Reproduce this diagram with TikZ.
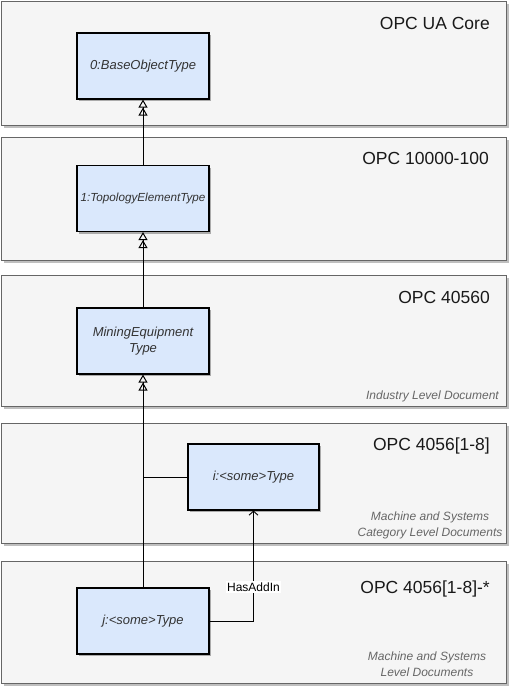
\documentclass[tikz,border=0pt]{standalone}
\usepackage{fontspec}
\setmainfont{Liberation Sans}
\usetikzlibrary{arrows.meta,shadows}
\definecolor{panelfill}{HTML}{F5F5F5}
\definecolor{panelline}{HTML}{666666}
\definecolor{boxfill}{HTML}{DAE8FC}
\definecolor{boxtext}{HTML}{333333}
\definecolor{subtext}{HTML}{666666}
\begin{document}
\begin{tikzpicture}[x=1pt,y=-1pt,
  panel/.style={draw=panelline, fill=panelfill, line width=1pt, anchor=north west, inner sep=0pt,
    drop shadow={shadow xshift=2.5pt, shadow yshift=-2.5pt, fill=black, opacity=0.25}},
  typebox/.style={draw=black, fill=boxfill, line width=1.2pt, minimum width=132pt, minimum height=66pt,
    inner sep=1pt, align=center, text=boxtext, font=\fontsize{13}{16}\selectfont\itshape,
    drop shadow={shadow xshift=2pt, shadow yshift=-2pt, fill=black, opacity=0.3}},
  title/.style={anchor=base east, inner sep=0pt, text=black!90, font=\fontsize{17.5}{20}\selectfont},
  sub/.style={inner sep=0pt, text=subtext, align=center, font=\fontsize{12}{16}\selectfont\itshape},
  conn/.style={draw=black, line width=0.9pt},
  subtype/.style={conn, -{Triangle[open,length=8pt,width=9pt,line width=1pt] Triangle[open,length=8pt,width=9pt,line width=1pt]}},
  addin/.style={conn, -{Straight Barb[length=4pt,width=9pt]}}
]
\useasboundingbox (0,0) rectangle (510,686);
% panels
\node[panel, minimum width=505pt, minimum height=124pt] (p1) at (1,1) {};
\node[panel, minimum width=505pt, minimum height=123pt] (p2) at (1,137) {};
\node[panel, minimum width=505pt, minimum height=131pt] (p3) at (1,275) {};
\node[panel, minimum width=505pt, minimum height=120pt] (p4) at (1,423) {};
\node[panel, minimum width=505pt, minimum height=122pt] (p5) at (1,561) {};
% titles
\node[title] (t1) at (490,29) {OPC UA Core};
\node[title] (t2) at (489,164) {OPC 10000-100};
\node[title] (t3) at (490,303) {OPC 40560};
\node[title] (t4) at (490,450) {OPC 4056[1-8]};
\node[title] (t5) at (490,593) {OPC 4056[1-8]-*};
% subtitles
\node[sub, anchor=east] (s3) at (499,396) {Industry Level Document};
\node[sub] (s4) at (430,525) {Machine and Systems\\Category Level Documents};
\node[sub] (s5) at (427,664) {Machine and Systems\\Level Documents};
% type boxes
\node[typebox] (b1) at (143,66) {0:BaseObjectType};
\node[typebox, font=\fontsize{11.7}{14}\selectfont\itshape] (b2) at (143,198.5) {1:TopologyElementType};
\node[typebox] (b3) at (143,341) {MiningEquipment\\Type};
\node[typebox, minimum width=131pt] (b4) at (253.5,477) {i:<some>Type};
\node[typebox] (b5) at (143,621) {j:<some>Type};
% connectors
\draw[subtype] (b2.north) -- (b1.south);
\draw[subtype] (b3.north) -- (b2.south);
\draw[subtype] (b5.north) -- (b3.south);
\draw[conn] (b4.west) -- (b4.west -| b3.south);
\draw[addin] (b5.east) -| (b4.south) node[pos=0.653, fill=white, inner sep=1.5pt, text=black, font=\fontsize{12}{14}\selectfont] (lbl) {HasAddIn};
\end{tikzpicture}
\end{document}
